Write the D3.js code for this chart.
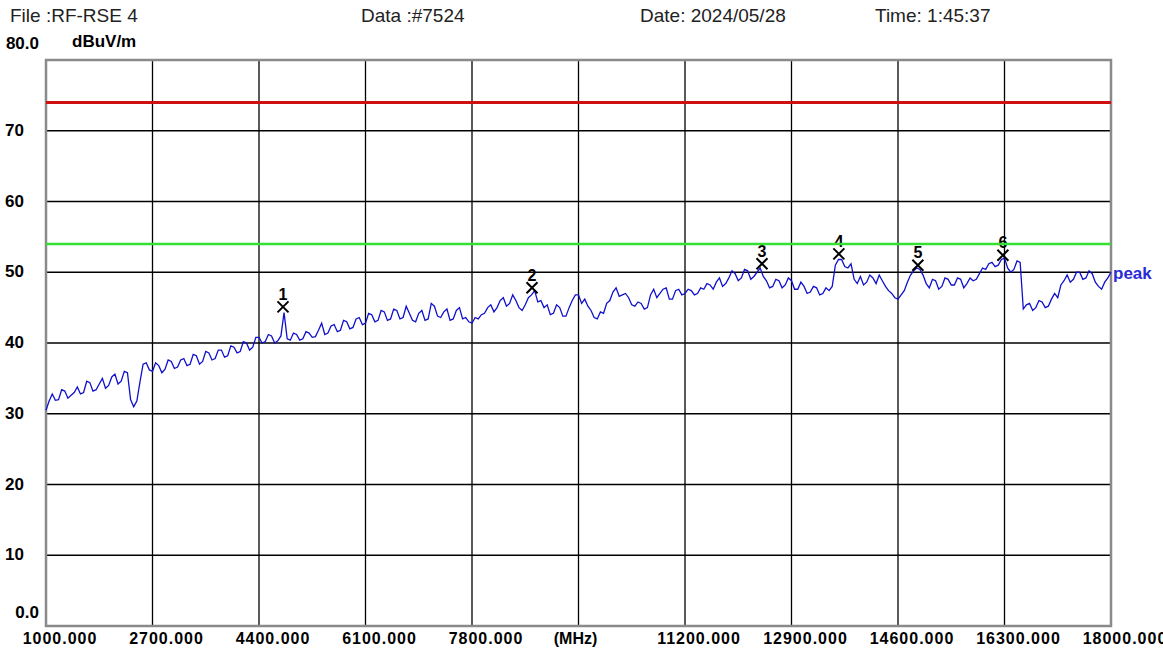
<!DOCTYPE html>
<html lang="en">
	<head>
		<meta charset="UTF-8">
		<title>RF-RSE 4</title>
		<script src="https://cdn.jsdelivr.net/npm/d3@7"></script>
		<style>
			body { margin: 0; background: #fff; }
			text { font-family: "Liberation Sans", Arial, sans-serif; }
		</style>
	</head>
	<body>
		<script>
			// spectrum trace, 50 MHz steps from 1000 to 18000 MHz (one row = 1000 MHz)
			var freqStart = 1000, freqStep = 50;
			var peakLevels = [
				30.5, 31.8, 32.8, 31.9, 32.0, 33.4, 33.2, 32.2, 32.6, 33.0, 33.8, 32.8, 33.0, 34.6, 34.4, 33.2, 33.4, 34.2, 35.0, 33.6,
				34.0, 35.2, 35.6, 34.2, 34.6, 36.0, 35.8, 32.0, 31.0, 31.8, 34.5, 37.0, 37.2, 36.2, 36.0, 37.2, 36.8, 35.8, 36.3, 37.6,
				37.4, 36.4, 36.6, 37.6, 37.8, 36.8, 37.0, 38.4, 38.2, 37.0, 37.4, 38.8, 38.6, 37.6, 37.8, 39.0, 39.0, 38.0, 38.2, 39.6,
				39.4, 38.6, 38.8, 40.2, 40.0, 39.0, 39.4, 40.8, 40.8, 40.0, 40.2, 41.2, 41.0, 40.0, 40.3, 41.0, 44.3, 40.6, 40.4, 41.4,
				41.2, 40.4, 40.6, 41.6, 41.4, 40.8, 40.9, 41.8, 42.8, 41.2, 41.4, 42.4, 42.6, 41.6, 41.8, 43.2, 43.0, 42.0, 42.2, 43.4,
				43.6, 42.6, 42.8, 44.2, 44.0, 43.0, 43.2, 44.6, 44.4, 43.2, 43.4, 44.8, 44.6, 43.4, 43.6, 45.2, 44.2, 43.2, 43.0, 44.2,
				44.6, 43.2, 43.4, 45.6, 45.2, 43.8, 43.6, 44.4, 44.8, 43.2, 43.4, 44.6, 45.0, 43.4, 43.6, 43.0, 42.8, 43.6, 43.4, 44.0,
				44.2, 45.0, 45.4, 44.4, 45.0, 46.0, 46.4, 45.2, 45.6, 46.8, 46.0, 45.0, 44.6, 45.4, 46.4, 46.8, 47.4, 45.8, 46.0, 45.0,
				45.4, 44.0, 44.2, 45.4, 45.0, 43.8, 43.8, 45.0, 46.0, 46.8, 46.8, 45.6, 46.2, 45.2, 44.6, 43.6, 43.4, 44.4, 44.2, 45.6,
				46.0, 47.2, 47.8, 46.6, 46.8, 47.0, 46.4, 45.4, 45.2, 45.8, 45.6, 44.8, 45.0, 46.8, 47.6, 46.4, 47.0, 47.6, 47.8, 46.2,
				46.2, 47.4, 47.6, 46.8, 47.0, 47.6, 47.4, 46.8, 47.0, 47.8, 47.6, 48.4, 48.2, 47.6, 48.6, 49.2, 48.0, 48.4, 49.2, 50.2,
				49.8, 48.8, 49.2, 50.4, 50.2, 49.0, 49.4, 50.0, 50.6, 49.4, 48.8, 47.8, 48.0, 49.0, 48.8, 47.8, 48.2, 49.2, 48.8, 47.6,
				47.6, 48.6, 48.0, 47.0, 47.2, 48.0, 47.8, 46.8, 47.0, 47.8, 47.4, 48.0, 51.0, 51.8, 51.8, 50.8, 50.6, 51.2, 49.0, 48.4,
				49.4, 48.2, 48.6, 49.6, 49.2, 48.4, 49.6, 48.8, 48.0, 47.4, 47.0, 46.4, 46.2, 46.8, 47.4, 48.6, 49.6, 50.2, 50.6, 50.4,
				49.6, 48.4, 47.8, 49.0, 48.8, 47.6, 48.0, 49.2, 49.0, 48.2, 48.2, 49.2, 49.0, 47.8, 48.4, 49.2, 48.8, 49.0, 49.8, 50.6,
				50.4, 51.2, 51.4, 50.8, 51.0, 51.8, 52.0, 50.6, 50.0, 50.4, 51.6, 51.4, 44.8, 45.4, 45.6, 44.6, 45.0, 46.0, 45.8, 45.0,
				45.2, 46.2, 47.0, 46.4, 48.2, 48.8, 49.6, 48.6, 49.0, 50.0, 50.0, 49.0, 49.2, 50.2, 49.8, 48.6, 48.0, 47.6, 48.6, 49.2,
				50.0
			];

			var markerFreqs = [4783, 8758, 12429, 13656, 14917, 16274];
			var markerLevels = [45.1, 47.8, 51.2, 52.6, 51.0, 52.4];
			var markerNames = ['1', '2', '3', '4', '5', '6'];

			var limitLevels = [74, 54];
			var limitColors = ['#d01010', '#33e033'];

			var xTicks = [1000, 2700, 4400, 6100, 7800, 9500, 11200, 12900, 14600, 16300, 18000];
			var xTickLabels = ['1000.000', '2700.000', '4400.000', '6100.000', '7800.000', '(MHz)',
				'11200.000', '12900.000', '14600.000', '16300.000', '18000.000'];
			var yTicks = [0, 10, 20, 30, 40, 50, 60, 70, 80];
			var yTickLabels = ['0.0', '10', '20', '30', '40', '50', '60', '70', '80.0'];

			var header = ['File :RF-RSE 4', 'Data :#7524', 'Date: 2024/05/28', 'Time: 1:45:37'];
			var headerX = [10, 361, 640, 875];

			var width = 1163, height = 649;
			var plotL = 46, plotR = 1111, plotT = 60, plotB = 626;

			var x = d3.scaleLinear().domain([1000, 18000]).range([plotL, plotR]);
			var y = d3.scaleLinear().domain([0, 80]).range([plotB, plotT]);

			var svg = d3.select('body')
						.append('svg')
						.attr('width', width)
						.attr('height', height);

			svg.selectAll('.hdr')
				.data(header)
				.enter()
					.append('text')
					.attr('class', 'hdr')
					.attr('x', function(d, i) { return headerX[i]; })
					.attr('y', 22)
					.attr('font-size', 19)
					.attr('fill', '#222')
					.text(function(d) { return d; });

			// grid
			svg.selectAll('.vgrid')
				.data(xTicks.slice(1, -1))
				.enter()
					.append('line')
					.attr('x1', function(d) { return x(d); })
					.attr('x2', function(d) { return x(d); })
					.attr('y1', plotT)
					.attr('y2', plotB)
					.attr('stroke', '#000')
					.attr('stroke-width', 1.3);

			svg.selectAll('.hgrid')
				.data(yTicks.slice(1, -1))
				.enter()
					.append('line')
					.attr('x1', plotL)
					.attr('x2', plotR)
					.attr('y1', function(d) { return y(d); })
					.attr('y2', function(d) { return y(d); })
					.attr('stroke', '#000')
					.attr('stroke-width', 1.3);

			svg.append('rect')
				.attr('x', plotL)
				.attr('y', plotT)
				.attr('width', plotR - plotL)
				.attr('height', plotB - plotT)
				.attr('fill', 'none')
				.attr('stroke', '#8a8a8a')
				.attr('stroke-width', 2.5);

			// axis labels (the last one runs off the page, as in the original)
			svg.selectAll('.xlab')
				.data(xTicks)
				.enter()
					.append('text')
					.attr('x', function(d, i) { return x(d) + (xTickLabels[i] === '(MHz)' ? -3 : 14); })
					.attr('y', 644)
					.attr('text-anchor', 'middle')
					.attr('font-size', 16)
					.attr('font-weight', 'bold')
					.attr('letter-spacing', function(d, i) { return xTickLabels[i] === '(MHz)' ? 0 : 1; })
					.text(function(d, i) { return xTickLabels[i]; });

			svg.selectAll('.ylab')
				.data(yTicks)
				.enter()
					.append('text')
					.attr('x', function(d, i) { return yTickLabels[i].length > 2 ? 39 : 5; })
					.attr('y', function(d) {
						if (d === 80) return y(d) - 11;
						if (d === 0) return y(d) - 8;
						return y(d) + 5;
					})
					.attr('text-anchor', function(d, i) { return yTickLabels[i].length > 2 ? 'end' : 'start'; })
					.attr('font-size', 17)
					.attr('font-weight', 'bold')
					.text(function(d, i) { return yTickLabels[i]; });

			svg.append('text')
				.attr('x', 72)
				.attr('y', 47)
				.attr('font-size', 17)
				.attr('font-weight', 'bold')
				.text('dBuV/m');

			// trace
			var line = d3.line()
						.x(function(d, i) { return x(freqStart + i * freqStep); })
						.y(function(d) { return y(d); });

			svg.append('path')
				.datum(peakLevels)
				.attr('d', line)
				.attr('fill', 'none')
				.attr('stroke', '#1010cc')
				.attr('stroke-width', 1.3);

			svg.append('text')
				.attr('x', x(18000) + 2)
				.attr('y', 279)
				.attr('font-size', 17)
				.attr('font-weight', 'bold')
				.attr('fill', '#2a2ad8')
				.text('peak');

			// markers
			var marks = svg.selectAll('.mark')
							.data(markerFreqs)
							.enter()
								.append('g')
								.attr('transform', function(d, i) {
									return 'translate(' + x(d) + ',' + y(markerLevels[i]) + ')';
								});

			marks.append('path')
				.attr('d', 'M-5.5,-5.5L5.5,5.5M-5.5,5.5L5.5,-5.5')
				.attr('stroke', '#000')
				.attr('stroke-width', 2)
				.attr('fill', 'none');

			marks.append('text')
				.attr('y', -7)
				.attr('text-anchor', 'middle')
				.attr('font-size', 16)
				.attr('font-weight', 'bold')
				.text(function(d, i) { return markerNames[i]; });

			// limit lines
			svg.selectAll('.limit')
				.data(limitLevels)
				.enter()
					.append('line')
					.attr('x1', plotL)
					.attr('x2', plotR)
					.attr('y1', function(d) { return y(d); })
					.attr('y2', function(d) { return y(d); })
					.attr('stroke', function(d, i) { return limitColors[i]; })
					.attr('stroke-width', function(d, i) { return i === 0 ? 3 : 2.5; });
		</script>
	</body>
</html>
